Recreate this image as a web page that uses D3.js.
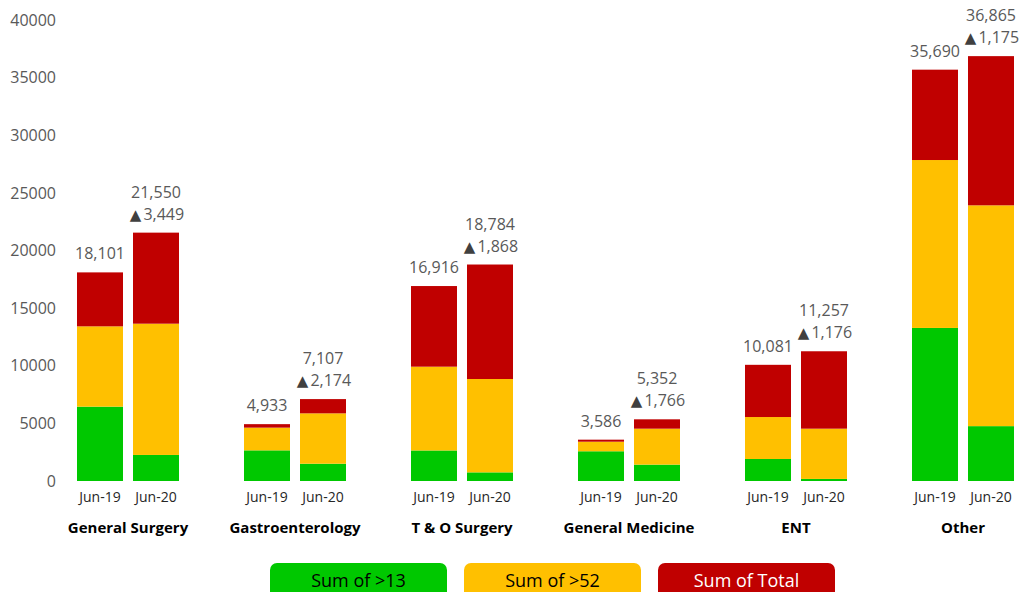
<!DOCTYPE html>
<html>
<head>
<meta charset="utf-8">
<script src="https://cdn.jsdelivr.net/npm/d3@7"></script>
<style>
  body { margin: 0; background: #fff; }
  svg { display: block; font-family: "Open Sans", "Noto Sans", sans-serif; }
</style>
</head>
<body>
<svg width="1025" height="592"></svg>
<script>
// categories
var groups = ["General Surgery", "Gastroenterology", "T & O Surgery", "General Medicine", "ENT", "Other"];
var periods = ["Jun-19", "Jun-20"];

// series values (segment sizes)
var over13Jun19 = [6450, 2660, 2650, 2580, 1910, 13280];
var over13Jun20 = [2260, 1500, 750, 1420, 180, 4760];
var over52Jun19 = [6970, 1970, 7270, 830, 3640, 14570];
var over52Jun20 = [11390, 4370, 8100, 3120, 4360, 19160];
var totalJun19 = [18101, 4933, 16916, 3586, 10081, 35690];
var totalJun20 = [21550, 7107, 18784, 5352, 11257, 36865];

var yTicks = [0, 5000, 10000, 15000, 20000, 25000, 30000, 35000, 40000];
var legendLabels = ["Sum of >13", "Sum of >52", "Sum of Total"];
var colors = ["#00c800", "#ffc000", "#c00000"];
var legendText = ["#000", "#000", "#fff"];

var svg = d3.select("svg");
var fmt = d3.format(",");

// build rows for d3.stack
var rows = [];
groups.forEach(function(g, i) {
    rows.push({group: g, period: "Jun-19", a: over13Jun19[i], b: over52Jun19[i],
        c: totalJun19[i] - over13Jun19[i] - over52Jun19[i], total: totalJun19[i], prev: null});
    rows.push({group: g, period: "Jun-20", a: over13Jun20[i], b: over52Jun20[i],
        c: totalJun20[i] - over13Jun20[i] - over52Jun20[i], total: totalJun20[i], prev: totalJun19[i]});
});

var x0 = d3.scaleBand().domain(groups).range([44.5, 1046.5]).padding(0);
var x1 = d3.scaleBand().domain(periods).range([0, 102]).paddingInner(0.1786).paddingOuter(0);
var y = d3.scaleLinear().domain([0, 40000]).range([481, 20]);

function barX(d) {
    return x0(d.group) + x0.bandwidth() / 2 - 51 + x1(d.period);
}

var stack = d3.stack().keys(["a", "b", "c"]);
var series = stack(rows);

svg.append("g")
    .selectAll("g")
    .data(series)
    .enter()
    .append("g")
    .attr("fill", function(d, i) { return colors[i]; })
    .selectAll("rect")
    .data(function(d) { return d; })
    .enter()
    .append("rect")
    .attr("x", function(d) { return barX(d.data); })
    .attr("width", x1.bandwidth())
    .attr("y", function(d) { return y(d[1]); })
    .attr("height", function(d) { return y(d[0]) - y(d[1]); });

// y axis labels
var yAxis = d3.axisLeft(y).tickValues(yTicks).tickSize(0).tickPadding(0).tickFormat(d3.format("d"));
var ya = svg.append("g").attr("transform", "translate(56,0)").call(yAxis);
ya.select(".domain").remove();
ya.selectAll("text")
    .attr("fill", "#595959")
    .style("font-size", "16px")
    .style("font-family", "'Open Sans', sans-serif");

// period labels
svg.append("g")
    .selectAll("text")
    .data(rows)
    .enter()
    .append("text")
    .attr("x", function(d) { return barX(d) + x1.bandwidth() / 2; })
    .attr("y", 502)
    .attr("text-anchor", "middle")
    .attr("fill", "#262626")
    .style("font-size", "14px")
    .text(function(d) { return d.period; });

// group labels
svg.append("g")
    .selectAll("text")
    .data(groups)
    .enter()
    .append("text")
    .attr("x", function(d) { return x0(d) + x0.bandwidth() / 2; })
    .attr("y", 533)
    .attr("text-anchor", "middle")
    .attr("fill", "#000")
    .style("font-size", "15px")
    .style("font-weight", "bold")
    .text(function(d) { return d; });

// total labels
var lab = svg.append("g")
    .selectAll("g")
    .data(rows)
    .enter()
    .append("g")
    .attr("fill", "#595959")
    .style("font-size", "16px")
    .attr("text-anchor", "middle");

lab.append("text")
    .attr("x", function(d) { return barX(d) + x1.bandwidth() / 2; })
    .attr("y", function(d) { return y(d.total) - (d.prev === null ? 13 : 35); })
    .text(function(d) { return fmt(d.total); });

var delta = lab.filter(function(d) { return d.prev !== null; })
    .append("text")
    .attr("x", function(d) { return barX(d) + x1.bandwidth() / 2 + 1; })
    .attr("y", function(d) { return y(d.total) - 13; });

delta.append("tspan")
    .style("font-family", "'DejaVu Sans', sans-serif")
    .style("font-size", "15px")
    .attr("fill", "#404040")
    .text(function(d) { return d.total >= d.prev ? "\u25B2" : "\u25BC"; });

delta.append("tspan")
    .attr("dx", 2)
    .text(function(d) { return fmt(Math.abs(d.total - d.prev)); });

// legend
var leg = svg.append("g")
    .selectAll("g")
    .data(legendLabels)
    .enter()
    .append("g")
    .attr("transform", function(d, i) { return "translate(" + (270 + i * 194) + ",563)"; });

leg.append("rect")
    .attr("width", 177)
    .attr("height", 36)
    .attr("rx", 7)
    .attr("fill", function(d, i) { return colors[i]; });

leg.append("text")
    .attr("x", 88.5)
    .attr("y", 24)
    .attr("text-anchor", "middle")
    .attr("fill", function(d, i) { return legendText[i]; })
    .style("font-size", "18px")
    .text(function(d) { return d; });
</script>
</body>
</html>
